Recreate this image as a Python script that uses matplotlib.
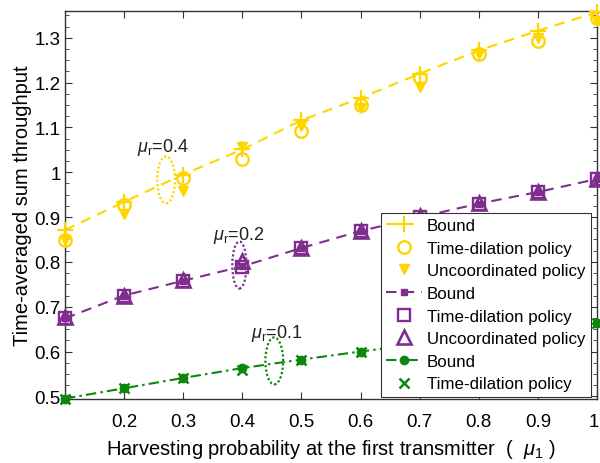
import matplotlib
matplotlib.use("Agg")
import matplotlib.pyplot as plt
import matplotlib.transforms as mtransforms
from matplotlib.patches import Ellipse
from matplotlib.ticker import MultipleLocator, FuncFormatter

plt.rcParams["font.family"] = ["Liberation Sans", "DejaVu Sans"]
plt.rcParams["mathtext.fontset"] = "custom"
plt.rcParams["mathtext.it"] = "Liberation Sans:italic"
plt.rcParams["mathtext.rm"] = "Liberation Sans"

# Harvesting probability at the first transmitter
mu1 = [0.1, 0.2, 0.3, 0.4, 0.5, 0.6, 0.7, 0.8, 0.9, 1.0]

# mu_r = 0.4
bound_04 = [0.871, 0.934, 0.995, 1.051, 1.116, 1.166, 1.220, 1.272, 1.316, 1.357]
dilation_04 = [0.849, 0.926, 0.988, 1.030, 1.093, 1.150, 1.210, 1.264, 1.294, 1.345]
uncoord_04 = [0.848, 0.907, 0.958, 1.057, 1.104, 1.144, 1.190, 1.264, 1.300, 1.338]

# mu_r = 0.2
bound_02 = [0.674, 0.725, 0.758, 0.790, 0.831, 0.869, 0.900, 0.930, 0.956, 0.985]
dilation_02 = [0.674, 0.725, 0.758, 0.788, 0.831, 0.869, 0.900, 0.930, 0.956, 0.985]
uncoord_02 = [0.676, 0.724, 0.759, 0.803, 0.832, 0.870, 0.902, 0.931, 0.956, 0.986]

# mu_r = 0.1
bound_01 = [0.495, 0.518, 0.541, 0.563, 0.582, 0.600, 0.617, 0.633, 0.648, 0.663]
dilation_01 = [0.495, 0.518, 0.541, 0.558, 0.582, 0.600, 0.617, 0.633, 0.648, 0.663]

gold = "#FFD500"
purple = "#7E2F8E"
green = "#0E870E"

fig = plt.figure(figsize=(6.0, 4.64), dpi=100)
ax = fig.add_axes([65 / 600, 1 - 400 / 464, 532 / 600, 388 / 464])

lw = 1.5
dash = (0, (5, 3.5))
ax.plot(mu1, bound_04, ls=dash, color=gold, lw=lw, marker="+", ms=12,
        mew=1.6, label="Bound", clip_on=False, zorder=3)
ax.plot(mu1, dilation_04, ls="none", color=gold, marker="o", ms=9, mfc="none",
        mew=1.7, label="Time-dilation policy", clip_on=False, zorder=3)
ax.plot(mu1, uncoord_04, ls="none", color=gold, marker="v", ms=6.5,
        label="Uncoordinated policy", clip_on=False, zorder=3)

ax.plot(mu1, bound_02, ls=dash, color=purple, lw=lw, marker="s", ms=4.5,
        label="Bound", clip_on=False, zorder=3)
ax.plot(mu1, dilation_02, ls="none", color=purple, marker="s", ms=8, mfc="none",
        mew=1.7, label="Time-dilation policy", clip_on=False, zorder=3)
ax.plot(mu1, uncoord_02, ls="none", color=purple, marker="^", ms=10.5, mfc="none",
        mew=1.9, label="Uncoordinated policy", clip_on=False, zorder=3)

ax.plot(mu1, bound_01, ls=(0, (5, 2, 1.2, 2)), color=green, lw=lw, marker="o", ms=6,
        label="Bound", clip_on=False, zorder=3)
ax.plot(mu1, dilation_01, ls="none", color=green, marker="x", ms=7, mew=1.8,
        label="Time-dilation policy", clip_on=False, zorder=3)

# dotted ellipses grouping each mu_r family
for (cx, cy, w, h, col, txt, tx, ty) in [
    (0.271, 0.983, 0.030, 0.105, gold, "0.4", 0.222, 1.035),
    (0.395, 0.793, 0.024, 0.105, purple, "0.2", 0.351, 0.838),
    (0.454, 0.579, 0.030, 0.105, green, "0.1", 0.414, 0.620),
]:
    ax.add_patch(Ellipse((cx, cy), w, h, fill=False, ls=(0, (1, 1)), lw=1.6,
                         edgecolor=col, zorder=2))
    ax.text(tx, ty, r"$\mu_{\mathrm{r}}$=" + txt, fontsize=13, color="#222222",
            ha="left", va="bottom")

ax.set_xlim(0.1, 1.0)
ax.set_ylim(0.494, 1.36)
ax.set_xticks([0.2, 0.3, 0.4, 0.5, 0.6, 0.7, 0.8, 0.9, 1.0])
ax.yaxis.set_major_locator(MultipleLocator(0.1))
ax.yaxis.set_minor_locator(MultipleLocator(0.025))
fmt = FuncFormatter(lambda v, p: f"{v:.1f}".rstrip("0").rstrip("."))
ax.xaxis.set_major_formatter(fmt)
ax.yaxis.set_major_formatter(fmt)
ax.tick_params(which="both", direction="in", top=True, right=True,
               labelsize=13.5, color="#333333")
ax.tick_params(which="major", length=5)
ax.tick_params(which="minor", length=3)
ax.tick_params(axis="x", pad=10)
ax.tick_params(axis="y", pad=3)
for s in ax.spines.values():
    s.set_linewidth(1.0)
    s.set_color("#333333")

ax.set_xlabel(r"Harvesting probability at the first transmitter  (  $\mu_1$ )",
              fontsize=14.5, labelpad=5)
ax.set_ylabel("Time-averaged sum throughput", fontsize=14.5, labelpad=2)

# keep the last x tick label inside the canvas
fig.canvas.draw()
last = ax.get_xticklabels()[-1]
last.set_transform(last.get_transform() +
                   mtransforms.ScaledTranslation(-3 / 100, 0, fig.dpi_scale_trans))

leg = ax.legend(loc="lower right", bbox_to_anchor=(0.991, 0.002), borderaxespad=0.1,
                fontsize=12.2, frameon=True, fancybox=False, framealpha=1,
                edgecolor="#333333", handlelength=2.1, handletextpad=0.3,
                labelspacing=0.45, borderpad=0.3)
leg.get_frame().set_linewidth(0.8)

fig.savefig("out.png", dpi=100)
